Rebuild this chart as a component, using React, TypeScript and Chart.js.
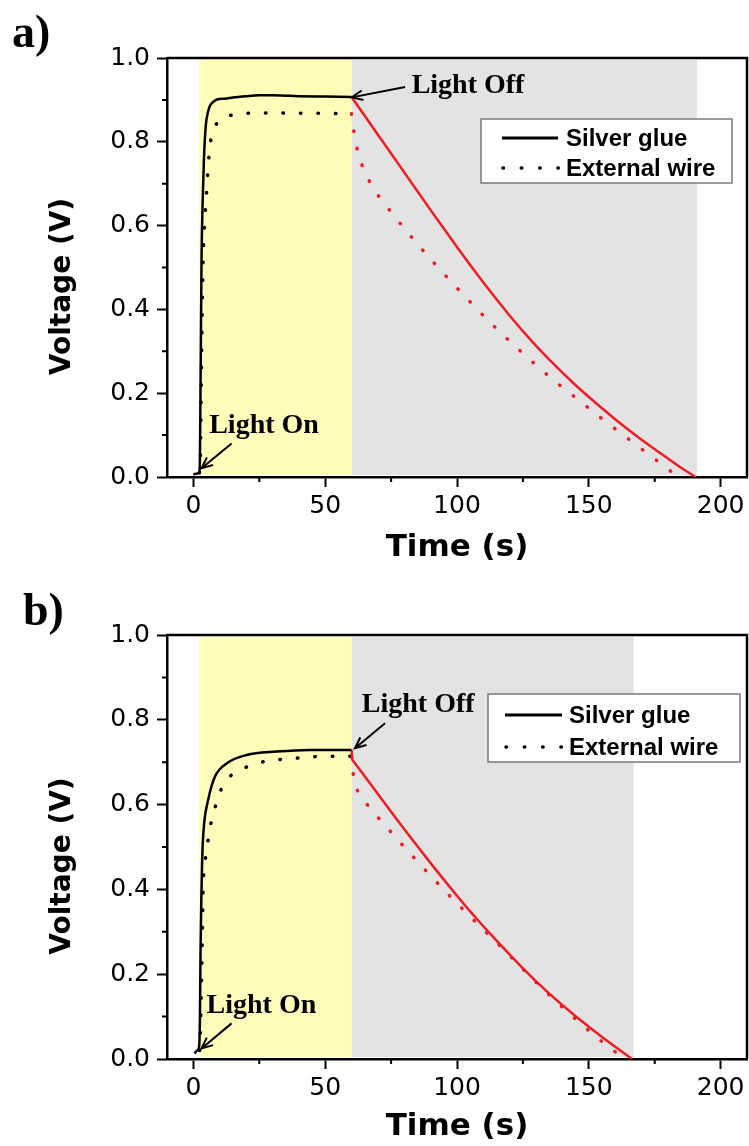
import React, { useEffect, useRef } from 'react';
import { Chart, registerables } from 'chart.js';

Chart.register(...registerables);

// ---------------- data ----------------
const xTickValues = [0, 50, 100, 150, 200];
const xMinorTickValues = [25, 75, 125, 175];
const yTickValues = [0, 0.2, 0.4, 0.6, 0.8, 1.0];
const yMinorTickValues = [0.1, 0.3, 0.5, 0.7, 0.9];
const seriesNames = ['Silver glue', 'External wire'];

// panel a) — Silver glue, light on
const silverOnTimeA = [0, 1, 2.3, 2.5, 2.8, 3.1, 3.5, 4.0, 4.7, 5.5, 6.3, 7.5, 9, 12, 15, 20, 25, 30, 35, 40, 50, 60];
const silverOnVoltA = [0.006, 0.008, 0.01, 0.05, 0.28, 0.52, 0.65, 0.758, 0.838, 0.87, 0.886, 0.895, 0.901, 0.903, 0.906, 0.909, 0.911, 0.911, 0.91, 0.909, 0.908, 0.907];
// panel a) — Silver glue, light off
const silverOffTimeA = [60, 65, 70, 75, 80, 85, 90, 95, 100, 105, 110, 115, 120, 125, 130, 135, 140, 145, 150, 155, 160, 165, 170, 175, 180, 185, 190.5];
const silverOffVoltA = [0.907, 0.862, 0.817, 0.772, 0.727, 0.682, 0.637, 0.593, 0.549, 0.506, 0.464, 0.424, 0.385, 0.348, 0.313, 0.28, 0.249, 0.219, 0.191, 0.164, 0.138, 0.113, 0.089, 0.066, 0.044, 0.022, 0];
// panel a) — External wire, light on
const wireOnTimeA = [2.3, 2.6, 3.1, 3.7, 4.3, 5.0, 5.6, 6.3, 7.5, 9, 11.3, 14, 16.4, 20, 28, 40, 50, 60];
const wireOnVoltA = [0.01, 0.03, 0.279, 0.519, 0.61, 0.678, 0.74, 0.79, 0.826, 0.845, 0.858, 0.863, 0.866, 0.868, 0.869, 0.868, 0.868, 0.867];
// panel a) — External wire, light off
const wireOffTimeA = [60, 60.5, 61.5, 62.6, 64.5, 67, 70, 75, 80, 85, 90, 95, 100, 105, 110, 115, 120, 125, 130, 135, 140, 145, 150, 155, 160, 165, 170, 175, 180, 184];
const wireOffVoltA = [0.867, 0.84, 0.8, 0.77, 0.735, 0.703, 0.673, 0.632, 0.593, 0.556, 0.52, 0.485, 0.451, 0.418, 0.385, 0.354, 0.324, 0.295, 0.267, 0.24, 0.214, 0.189, 0.164, 0.139, 0.115, 0.091, 0.067, 0.043, 0.019, 0];

// panel b) — Silver glue, light on
const silverOnTimeB = [0.4, 1.5, 2.2, 2.5, 2.7, 3.0, 3.3, 3.5, 4.1, 5.6, 8.2, 12.6, 20.2, 31.6, 44.2, 60];
const silverOnVoltB = [0.013, 0.02, 0.03, 0.1, 0.242, 0.37, 0.46, 0.5, 0.557, 0.611, 0.666, 0.697, 0.717, 0.725, 0.729, 0.729];
// panel b) — Silver glue, light off
const silverOffTimeB = [60, 60.3, 65, 70, 75, 80, 85, 90, 95, 100, 105, 110, 115, 120, 125, 130, 135, 140, 145, 150, 155, 160, 166.4];
const silverOffVoltB = [0.729, 0.706, 0.667, 0.625, 0.583, 0.542, 0.502, 0.462, 0.423, 0.385, 0.348, 0.313, 0.279, 0.246, 0.214, 0.183, 0.154, 0.127, 0.101, 0.076, 0.052, 0.029, 0];
// panel b) — External wire, light on
const wireOnTimeB = [2.4, 2.8, 3.3, 3.7, 4.4, 5.2, 6.3, 8.2, 10, 13.2, 17.7, 23.3, 30.3, 36.6, 43.6, 50, 60];
const wireOnVoltB = [0.02, 0.1, 0.25, 0.4, 0.462, 0.5, 0.545, 0.592, 0.628, 0.662, 0.681, 0.696, 0.705, 0.708, 0.712, 0.714, 0.714];
// panel b) — External wire, light off
const wireOffTimeB = [60, 60.5, 61.3, 65, 70, 75, 80, 85, 90, 95, 100, 105, 110, 115, 120, 125, 130, 135, 140, 145, 150, 155, 160, 164.4];
const wireOffVoltB = [0.714, 0.68, 0.642, 0.607, 0.57, 0.535, 0.5, 0.466, 0.432, 0.399, 0.367, 0.336, 0.305, 0.275, 0.244, 0.212, 0.181, 0.151, 0.122, 0.094, 0.067, 0.041, 0.017, 0];

// illumination periods [start, end] in seconds
const lightOnPeriodA = [2.2, 60.2];
const darkPeriodA = [60.2, 191];
const lightOnPeriodB = [2.2, 60.1];
const darkPeriodB = [60.1, 167];

// ---------------- styles ----------------
const BLACK = '#000000';
const RED = '#ee1c24';
const YELLOW = '#fffdb9';
const GREY = '#e3e3e3';
const TICK_FONT = "'DejaVu Sans', sans-serif";
const TITLE_FONT = "'DejaVu Sans', sans-serif";
const LEGEND_FONT = "'Liberation Sans', Arial, sans-serif";
const SERIF = "'Liberation Serif', 'Times New Roman', serif";

const W = 749;
const H = 573;

function zip(t: number[], v: number[]) {
  return t.map((x, i) => ({ x, y: v[i] }));
}

type Annot = { text: string; tx: number; ty: number; from: [number, number]; to: [number, number] };

type PanelCfg = {
  label: string;
  labelX: number;
  labelY: number;
  top: number;
  xAxisHeight: number;
  xTitlePad: number;
  silverOn: { x: number; y: number }[];
  silverOff: { x: number; y: number }[];
  wireOn: { x: number; y: number }[];
  wireOff: { x: number; y: number }[];
  lightOn: number[];
  dark: number[];
  annots: Annot[];
  legend: { x: number; y: number; w: number; h: number; rows: number[]; lx0: number; lx1: number; tx: number };
};

const panelA: PanelCfg = {
  label: 'a)',
  labelX: 12,
  labelY: 47,
  top: 58,
  xAxisHeight: 96,
  xTitlePad: 6,
  silverOn: zip(silverOnTimeA, silverOnVoltA),
  silverOff: zip(silverOffTimeA, silverOffVoltA),
  wireOn: zip(wireOnTimeA, wireOnVoltA),
  wireOff: zip(wireOffTimeA, wireOffVoltA),
  lightOn: lightOnPeriodA,
  dark: darkPeriodA,
  annots: [
    { text: 'Light Off', tx: 82.8, ty: 0.916, from: [80.3, 0.931], to: [60.1, 0.906] },
    { text: 'Light On', tx: 6, ty: 0.104, from: [14.5, 0.08], to: [3.1, 0.021] },
  ],
  legend: { x: 481, y: 119, w: 251, h: 64, rows: [138, 168], lx0: 502, lx1: 558, tx: 566 },
};

const panelB: PanelCfg = {
  label: 'b)',
  labelX: 23,
  labelY: 52,
  top: 62,
  xAxisHeight: 87,
  xTitlePad: 0,
  silverOn: zip(silverOnTimeB, silverOnVoltB),
  silverOff: zip(silverOffTimeB, silverOffVoltB),
  wireOn: zip(wireOnTimeB, wireOnVoltB),
  wireOff: zip(wireOffTimeB, wireOffVoltB),
  lightOn: lightOnPeriodB,
  dark: darkPeriodB,
  annots: [
    { text: 'Light Off', tx: 63.9, ty: 0.819, from: [72.7, 0.792], to: [61.3, 0.733] },
    { text: 'Light On', tx: 5, ty: 0.108, from: [14.5, 0.084], to: [3.1, 0.025] },
  ],
  legend: { x: 488, y: 121, w: 252, h: 68, rows: [142, 174], lx0: 505, lx1: 562, tx: 569 },
};

function drawArrow(ctx: CanvasRenderingContext2D, x0: number, y0: number, x1: number, y1: number) {
  ctx.beginPath();
  ctx.moveTo(x0, y0);
  ctx.lineTo(x1, y1);
  ctx.stroke();
  const a = Math.atan2(y1 - y0, x1 - x0);
  const L = 12;
  const w = 0.42;
  ctx.beginPath();
  ctx.moveTo(x1 - L * Math.cos(a - w), y1 - L * Math.sin(a - w));
  ctx.lineTo(x1, y1);
  ctx.lineTo(x1 - L * Math.cos(a + w), y1 - L * Math.sin(a + w));
  ctx.stroke();
}

function makeDecor(cfg: PanelCfg) {
  return {
    id: 'decor',
    beforeDatasetsDraw(chart: any) {
      const { ctx, chartArea } = chart;
      const x = chart.scales.x;
      ctx.save();
      const shade = (range: number[], color: string) => {
        const x0 = x.getPixelForValue(range[0]);
        const x1 = x.getPixelForValue(range[1]);
        ctx.fillStyle = color;
        ctx.fillRect(x0, chartArea.top + 2, x1 - x0, chartArea.bottom - chartArea.top - 4);
      };
      shade(cfg.lightOn, YELLOW);
      shade(cfg.dark, GREY);
      ctx.restore();
    },
    afterDatasetsDraw(chart: any) {
      const { ctx } = chart;
      const x = chart.scales.x;
      const y = chart.scales.y;
      ctx.save();
      // annotations
      ctx.fillStyle = BLACK;
      ctx.strokeStyle = BLACK;
      ctx.lineWidth = 2;
      ctx.font = `bold 28px ${SERIF}`;
      ctx.textAlign = 'left';
      ctx.textBaseline = 'alphabetic';
      cfg.annots.forEach((a) => {
        ctx.fillText(a.text, x.getPixelForValue(a.tx), y.getPixelForValue(a.ty));
        drawArrow(
          ctx,
          x.getPixelForValue(a.from[0]),
          y.getPixelForValue(a.from[1]),
          x.getPixelForValue(a.to[0]),
          y.getPixelForValue(a.to[1])
        );
      });
      // legend
      const L = cfg.legend;
      ctx.fillStyle = '#ffffff';
      ctx.fillRect(L.x, L.y, L.w, L.h);
      ctx.strokeStyle = '#7a7a7a';
      ctx.lineWidth = 1.5;
      ctx.strokeRect(L.x, L.y, L.w, L.h);
      ctx.strokeStyle = BLACK;
      ctx.lineWidth = 3;
      ctx.setLineDash([]);
      ctx.lineCap = 'butt';
      ctx.beginPath();
      ctx.moveTo(L.lx0, L.rows[0]);
      ctx.lineTo(L.lx1, L.rows[0]);
      ctx.stroke();
      ctx.lineWidth = 3.5;
      ctx.lineCap = 'round';
      ctx.setLineDash([0.5, 17.8]);
      ctx.beginPath();
      ctx.moveTo(L.lx0 + 1, L.rows[1]);
      ctx.lineTo(L.lx1 + 2, L.rows[1]);
      ctx.stroke();
      ctx.setLineDash([]);
      ctx.fillStyle = BLACK;
      ctx.font = `bold 24px ${LEGEND_FONT}`;
      ctx.textBaseline = 'middle';
      ctx.fillText(seriesNames[0], L.tx, L.rows[0] + 1);
      ctx.fillText(seriesNames[1], L.tx, L.rows[1] + 1);
      ctx.restore();
    },
    afterDraw(chart: any) {
      const { ctx, chartArea } = chart;
      const x = chart.scales.x;
      const y = chart.scales.y;
      ctx.save();
      ctx.strokeStyle = BLACK;
      // top & right frame
      ctx.lineWidth = 2.5;
      ctx.beginPath();
      ctx.moveTo(chartArea.left, chartArea.top);
      ctx.lineTo(chartArea.right, chartArea.top);
      ctx.lineTo(chartArea.right, chartArea.bottom);
      ctx.stroke();
      // minor ticks
      ctx.lineWidth = 2;
      ctx.beginPath();
      xMinorTickValues.forEach((v) => {
        const px = x.getPixelForValue(v);
        ctx.moveTo(px, chartArea.bottom);
        ctx.lineTo(px, chartArea.bottom + 5);
      });
      yMinorTickValues.forEach((v) => {
        const py = y.getPixelForValue(v);
        ctx.moveTo(chartArea.left, py);
        ctx.lineTo(chartArea.left - 5, py);
      });
      ctx.stroke();
      // y axis title
      ctx.fillStyle = BLACK;
      ctx.font = `bold 28px ${TITLE_FONT}`;
      ctx.textAlign = 'center';
      ctx.textBaseline = 'middle';
      ctx.translate(63, (chartArea.top + chartArea.bottom) / 2 + 19);
      ctx.rotate(-Math.PI / 2);
      ctx.fillText('Voltage (V)', 0, 0);
      ctx.restore();
      // panel label
      ctx.save();
      ctx.fillStyle = BLACK;
      ctx.font = `bold 46px ${SERIF}`;
      ctx.textAlign = 'left';
      ctx.textBaseline = 'alphabetic';
      ctx.fillText(cfg.label, cfg.labelX, cfg.labelY);
      ctx.restore();
    },
  };
}

function lineDataset(label: string, data: { x: number; y: number }[], color: string, dotted: boolean, smooth: boolean) {
  return {
    label,
    data,
    borderColor: color,
    backgroundColor: color,
    borderWidth: dotted ? 3.5 : 2.5,
    borderDash: dotted ? [0.5, 17] : [],
    borderCapStyle: dotted ? 'round' : 'butt',
    borderJoinStyle: 'round',
    pointRadius: 0,
    pointHoverRadius: 0,
    fill: false,
    tension: 0,
    cubicInterpolationMode: smooth ? 'monotone' : 'default',
  };
}

function Panel({ cfg }: { cfg: PanelCfg }) {
  const ref = useRef<HTMLCanvasElement>(null);
  useEffect(() => {
    const canvas = ref.current;
    if (!canvas) return;
    const chart = new Chart(canvas, {
      type: 'line',
      data: {
        datasets: [
          lineDataset(seriesNames[0], cfg.silverOn, BLACK, false, true),
          lineDataset(seriesNames[0] + ' (off)', cfg.silverOff, RED, false, false),
          lineDataset(seriesNames[1], cfg.wireOn, BLACK, true, true),
          lineDataset(seriesNames[1] + ' (off)', cfg.wireOff, RED, true, false),
        ] as any,
      },
      options: {
        responsive: false,
        animation: false,
        devicePixelRatio: 1,
        layout: { padding: { top: cfg.top, right: 2, left: 0, bottom: 0 } },
        plugins: { legend: { display: false }, tooltip: { enabled: false } },
        events: [],
        scales: {
          x: {
            type: 'linear',
            min: -10,
            max: 210,
            afterBuildTicks: (s: any) => {
              s.ticks = xTickValues.map((value) => ({ value }));
            },
            afterFit: (s: any) => {
              s.height = cfg.xAxisHeight;
            },
            ticks: {
              callback: (v: any) => String(v),
              font: { family: TICK_FONT, size: 25 },
              color: BLACK,
              padding: 4,
              maxRotation: 0,
              autoSkip: false,
            },
            grid: { display: true, drawOnChartArea: false, drawTicks: true, tickLength: 10, tickWidth: 2, tickColor: BLACK },
            border: { display: true, color: BLACK, width: 2.5 },
            title: {
              display: true,
              text: 'Time (s)',
              font: { family: TITLE_FONT, size: 31, weight: 'bold' },
              color: BLACK,
              padding: { top: 0, bottom: cfg.xTitlePad },
            },
          },
          y: {
            type: 'linear',
            min: 0,
            max: 1,
            afterBuildTicks: (s: any) => {
              s.ticks = yTickValues.map((value) => ({ value }));
            },
            afterFit: (s: any) => {
              s.width = 167;
            },
            ticks: {
              callback: (v: any) => Number(v).toFixed(1),
              font: { family: TICK_FONT, size: 25 },
              color: BLACK,
              padding: 7,
              autoSkip: false,
            },
            grid: { display: true, drawOnChartArea: false, drawTicks: true, tickLength: 10, tickWidth: 2, tickColor: BLACK },
            border: { display: true, color: BLACK, width: 2.5 },
            title: { display: false },
          },
        },
      } as any,
      plugins: [makeDecor(cfg)],
    });
    return () => chart.destroy();
  }, [cfg]);
  return <canvas ref={ref} width={W} height={H} style={{ display: 'block', width: W, height: H }} />;
}

export default function App() {
  return (
    <div style={{ position: 'absolute', left: 0, top: 0, width: W, height: H * 2, background: '#ffffff' }}>
      <Panel cfg={panelA} />
      <Panel cfg={panelB} />
    </div>
  );
}
